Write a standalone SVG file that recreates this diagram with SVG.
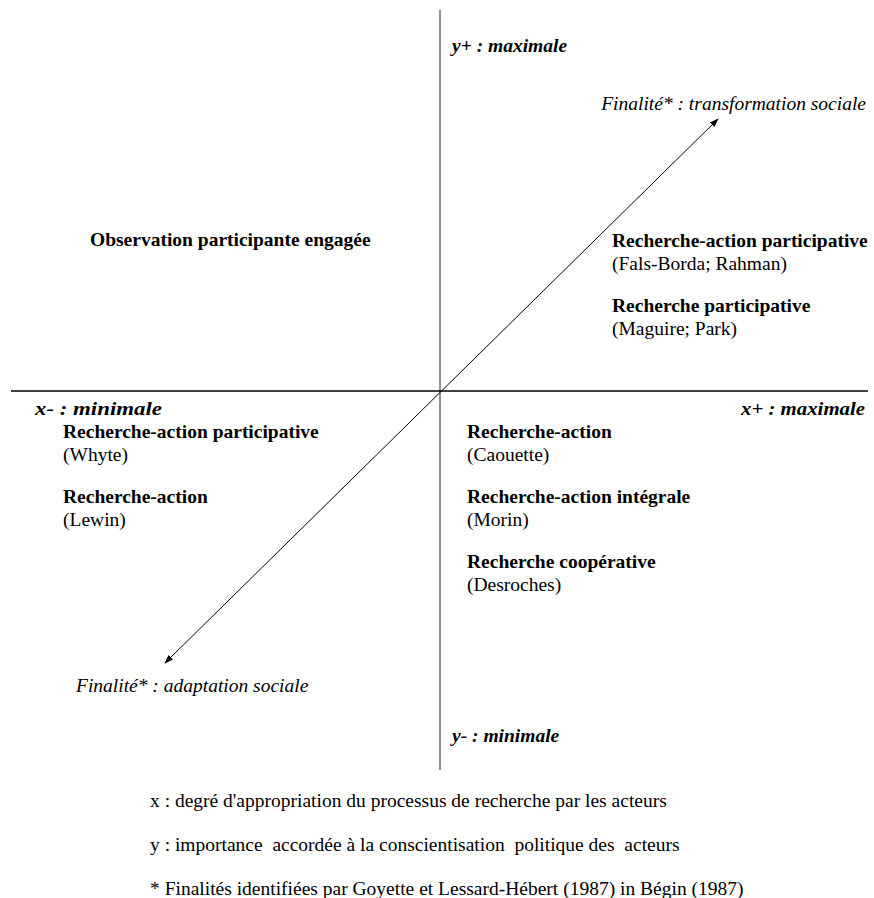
<svg xmlns="http://www.w3.org/2000/svg" width="874" height="898" viewBox="0 0 874 898" font-family="'Liberation Serif', 'Times New Roman', serif">
<style>
text{font-size:19.5px;fill:#000}
.b{font-weight:bold}
.i{font-style:italic}
.ax{font-weight:bold;font-style:italic}
</style>
<defs>
<marker id="ah" viewBox="0 0 10 10" refX="9" refY="5" markerWidth="9" markerHeight="9" markerUnits="userSpaceOnUse" orient="auto-start-reverse">
<path d="M0,1.5 L10,5 L0,8.5 Z" fill="#000"/>
</marker>
</defs>
<rect width="874" height="898" fill="#fff"/>
<g id="connectors">
<line x1="440" y1="10" x2="440" y2="770" stroke="#555" stroke-width="1.3"/>
<line x1="11" y1="391" x2="868" y2="391" stroke="#000" stroke-width="1.3"/>
<line x1="165" y1="663" x2="718" y2="119" stroke="#000" stroke-width="1" marker-start="url(#ah)" marker-end="url(#ah)"/>
</g>
<g id="axis-labels">
<text class="ax" x="452" y="52">y+ : maximale</text>
<text class="ax" x="452" y="742">y- : minimale</text>
<text class="ax" x="35" y="415" textLength="127" lengthAdjust="spacingAndGlyphs">x- : minimale</text>
<text class="ax" x="741" y="415" textLength="124" lengthAdjust="spacingAndGlyphs">x+ : maximale</text>
</g>
<g id="finalite-top"><text class="i" x="866" y="110" text-anchor="end">Finalité* : transformation sociale</text></g>
<g id="finalite-bottom"><text class="i" x="76" y="692">Finalité* : adaptation sociale</text></g>
<g id="q-top-left"><text class="b" x="90" y="246">Observation participante engagée</text></g>
<g id="q-top-right">
<text class="b" x="612" y="247">Recherche-action participative</text>
<text x="612" y="270">(Fals-Borda; Rahman)</text>
<text class="b" x="612" y="312">Recherche participative</text>
<text x="612" y="335">(Maguire; Park)</text>
</g>
<g id="q-bottom-left">
<text class="b" x="63" y="438">Recherche-action participative</text>
<text x="63" y="461">(Whyte)</text>
<text class="b" x="63" y="503">Recherche-action</text>
<text x="63" y="526">(Lewin)</text>
</g>
<g id="q-bottom-right">
<text class="b" x="467" y="438">Recherche-action</text>
<text x="467" y="461">(Caouette)</text>
<text class="b" x="467" y="503">Recherche-action intégrale</text>
<text x="467" y="526">(Morin)</text>
<text class="b" x="467" y="568">Recherche coopérative</text>
<text x="467" y="591">(Desroches)</text>
</g>
<g id="legend">
<text x="150" y="807">x : degré d'appropriation du processus de recherche par les acteurs</text>
<text x="150" y="851" xml:space="preserve">y : importance  accordée à la conscientisation  politique des  acteurs</text>
<text x="150" y="895">* Finalités identifiées par Goyette et Lessard-Hébert (1987) in Bégin (1987)</text>
</g>
</svg>
